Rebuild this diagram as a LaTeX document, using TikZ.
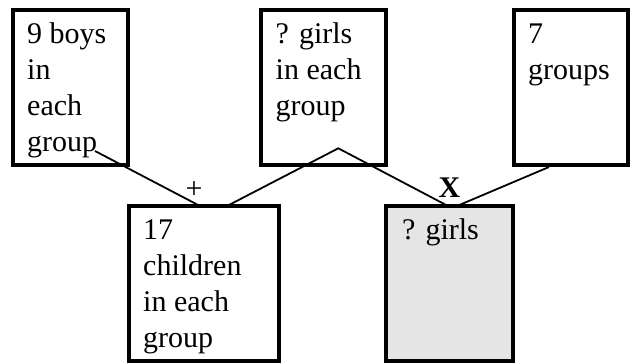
\documentclass[tikz,border=0pt]{standalone}
\usepackage{fontspec}
\setmainfont{Liberation Serif}
\usetikzlibrary{calc}

\tikzset{
  box/.style={draw, line width=4pt, outer sep=0pt, inner sep=0pt},
  boxtext/.style={anchor=north west, inner sep=0pt, align=left,
    font=\fontsize{30}{36}\selectfont},
  link/.style={line width=1.8pt},
  oplabel/.style={inner sep=0pt, font=\fontsize{30}{36}\selectfont},
}
% first-line strut so every text block starts from the same baseline
\newcommand{\firststrut}{\rule{0pt}{21pt}}

\begin{document}
\begin{tikzpicture}[x=1pt, y=-1pt]
  \useasboundingbox (0,0) rectangle (631,362);

  % boxes (positions are stroke centres)
  \node[box, minimum width=115pt, minimum height=155pt] (b1) at (70,87) {};
  \node[box, minimum width=125pt, minimum height=155pt] (b2) at (323,87) {};
  \node[box, minimum width=114pt, minimum height=155pt] (b3) at (571,87) {};
  \node[box, minimum width=150.5pt, minimum height=154.5pt] (b4) at (203.75,283.25) {};
  \node[box, fill=gray!20, minimum width=127pt, minimum height=154.5pt] (b5) at (449.5,283.25) {};

  % box texts
  \node[boxtext] (t1) at ($(b1.north west)+(14.5,12.5)$) {\firststrut 9 boys\\in\\each\\group};
  \node[boxtext] (t2) at ($(b2.north west)+(15,12.5)$) {\firststrut ? girls\\in each\\group};
  \node[boxtext] (t3) at ($(b3.north west)+(14,12.5)$) {\firststrut 7\\groups};
  \node[boxtext] (t4) at ($(b4.north west)+(14.5,12)$) {\firststrut 17\\children\\in each\\group};
  \node[boxtext] (t5) at ($(b5.north west)+(16,12)$) {\firststrut ? girls};

  % connector points
  \coordinate (p1) at ($(b1.south east)+(-32.5,-13.5)$);
  \coordinate (p2) at ($(b4.north west)+(71.5,0)$);
  \coordinate (p3) at ($(b4.north west)+(98.5,0)$);
  \coordinate (peak) at ($(b2.south west)+(77.8,-16.2)$);
  \coordinate (p4) at ($(b5.north west)+(62,0)$);
  \coordinate (p5) at ($(b5.north west)+(71,0)$);
  \coordinate (p6) at ($(b3.south west)+(35,2.5)$);

  % connectors
  \draw[link] (p1) -- (p2);
  \draw[link] (p3) -- (peak) -- (p4);
  \draw[link] (p5) -- (p6);

  % operation labels
  \node[oplabel] (plus) at (194,190.5) {+};
  \node[oplabel, anchor=base, font=\fontsize{30}{36}\selectfont\bfseries] (times) at (449.5,197) {X};
\end{tikzpicture}
\end{document}
